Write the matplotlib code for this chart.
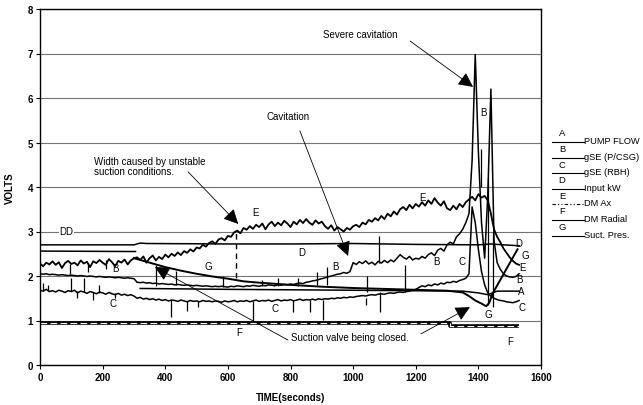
import matplotlib
matplotlib.use("Agg")
import matplotlib.pyplot as plt
import numpy as np
from matplotlib.lines import Line2D

plt.rcParams["font.family"] = ["Liberation Sans", "DejaVu Sans"]

# ---- data (volts vs seconds) ----
# jagged channels, one reading every 10 s from 0 to 1530 s
t10 = np.arange(0, 1531, 10)

e_dm_ax = [
    2.28, 2.22, 2.30, 2.26, 2.33, 2.25, 2.31, 2.18, 2.29, 2.34, 2.27, 2.30, 2.24, 2.35, 2.28, 2.32,
    2.20, 2.33, 2.29, 2.36, 2.30, 2.25, 2.38, 2.31, 2.22, 2.34, 2.30, 2.37, 2.26, 2.35, 2.40,
    2.42, 2.36, 2.44, 2.30, 2.40, 2.46, 2.35, 2.43, 2.38, 2.48, 2.42, 2.50, 2.45, 2.53, 2.47, 2.56,
    2.52, 2.60, 2.55, 2.64, 2.62, 2.70, 2.66, 2.74, 2.78, 2.72, 2.82, 2.85, 2.80, 2.90, 2.88, 2.98,
    3.02, 2.96, 3.08, 3.04, 3.12, 3.06, 3.15, 3.10, 3.18, 3.05, 3.16, 3.22, 3.12, 3.20, 3.14, 3.24,
    3.18, 3.10, 3.22, 3.16, 3.26, 3.19, 3.28, 3.20, 3.15, 3.25, 3.18, 3.22,
    3.12, 3.06, 3.14, 3.02, 3.10, 3.05, 3.00, 3.08, 3.04, 3.12,
    3.15, 3.10, 3.20, 3.16, 3.26, 3.22, 3.30, 3.25, 3.35, 3.28, 3.40, 3.34, 3.45, 3.38, 3.50,
    3.55, 3.48, 3.60, 3.52, 3.62, 3.56, 3.66, 3.58, 3.70, 3.62, 3.75, 3.65, 3.58, 3.68, 3.52,
    3.48, 3.58, 3.50, 3.62, 3.55, 3.66,
    3.72, 3.78, 3.70, 3.84, 3.76, 3.80, 3.70,
    3.40, 3.05, 2.88, 2.76, 2.62, 2.52, 2.42, 2.34, 2.28, 2.25,
]

b_gse_pcsg = [
    2.05, 2.04, 2.05, 2.03, 2.04, 2.03, 2.02, 2.03, 2.02, 2.01, 2.02, 2.01, 2.00, 2.01, 2.00, 1.99,
    2.00, 1.99, 1.98, 1.99, 1.98, 1.97, 1.98, 1.97, 1.96, 1.97, 1.96, 1.95, 1.96, 1.95, 1.94,
    1.86, 1.85, 1.86, 1.84, 1.85, 1.83, 1.84, 1.82, 1.83, 1.82, 1.81, 1.82, 1.80, 1.81, 1.80, 1.79,
    1.80, 1.79, 1.78, 1.79, 1.78, 1.77, 1.78, 1.77, 1.76, 1.77, 1.76, 1.77, 1.76, 1.75,
    1.77, 1.76, 1.78, 1.77, 1.76, 1.78, 1.77, 1.79, 1.78, 1.77, 1.79, 1.78, 1.80, 1.79, 1.78, 1.80,
    1.79, 1.81, 1.80, 1.82, 1.81, 1.83, 1.84, 1.83, 1.86, 1.87, 1.89, 1.90, 1.92, 1.94,
    1.96, 1.98, 2.00, 2.02, 2.04, 2.05, 2.08, 2.06, 2.10, 2.30,
    2.26, 2.32, 2.28, 2.34, 2.27, 2.31, 2.25, 2.33, 2.29, 2.35, 2.30, 2.36, 2.32, 2.40, 2.48, 2.42,
    2.38, 2.44, 2.36, 2.40,
    2.38, 2.44, 2.40, 2.48, 2.52, 2.46, 2.58, 2.62, 2.56, 2.70, 2.76, 2.72, 2.88, 2.95, 3.05, 3.20,
    3.40,
    4.60, 6.98, 4.80, 3.20, 2.40, 3.80, 6.20, 2.80, 2.30, 2.15, 2.05, 2.00, 1.98, 1.97, 1.99, 2.05,
]

c_gse_rbh = [
    1.68, 1.66, 1.70, 1.65, 1.67, 1.64, 1.68, 1.66, 1.63, 1.67, 1.65, 1.68, 1.62, 1.66, 1.64, 1.61,
    1.65, 1.63, 1.60, 1.64, 1.62, 1.59, 1.63, 1.60, 1.58, 1.61, 1.57, 1.59, 1.56, 1.58, 1.55,
    1.50, 1.52, 1.48, 1.50, 1.47, 1.49, 1.46, 1.48, 1.45, 1.47, 1.44, 1.46, 1.45, 1.43, 1.46, 1.44,
    1.42, 1.45, 1.43, 1.44, 1.42, 1.45, 1.43, 1.44, 1.42, 1.44, 1.43, 1.41, 1.44, 1.42,
    1.43, 1.45, 1.42, 1.44, 1.43, 1.45, 1.42, 1.44, 1.46, 1.43, 1.45, 1.44, 1.46, 1.43, 1.45, 1.47,
    1.44, 1.46, 1.45, 1.47, 1.44, 1.46, 1.48, 1.45, 1.47, 1.46, 1.48, 1.46, 1.49, 1.47,
    1.49, 1.48, 1.50, 1.49, 1.51, 1.50, 1.52, 1.51, 1.53, 1.52, 1.54, 1.55, 1.56, 1.55, 1.57, 1.58,
    1.57, 1.59, 1.60, 1.59, 1.61, 1.62, 1.61, 1.63, 1.64, 1.63, 1.65, 1.66, 1.68, 1.70,
    1.74, 1.78, 1.76, 1.80, 1.78, 1.82, 1.80, 1.84, 1.82, 1.86, 1.85, 1.88, 1.86, 1.90, 1.92, 1.95,
    2.05,
    3.55, 3.20, 2.60, 2.10, 1.80, 1.62, 1.55, 1.50, 1.47, 1.45, 1.44, 1.42, 1.41, 1.40, 1.42, 1.45,
]

# smoother channels, read at break points
a_t = [0, 305, 305, 320, 600, 1000, 1350, 1400, 1430, 1445, 1460, 1530]
a_v = [2.56, 2.55, np.nan, 1.72, 1.70, 1.68, 1.66, 1.62, 1.58, 1.62, 1.66, 1.66]

d_t = [0, 300, 320, 340, 600, 800, 1000, 1200, 1400, 1440, 1480, 1530]
d_v = [2.70, 2.70, 2.74, 2.73, 2.72, 2.72, 2.73, 2.71, 2.70, 2.72, 2.70, 2.68]

f_t = [0, 1310, 1310, 1530]
f_v = [0.95, 0.95, 0.88, 0.88]

g_t = [300, 350, 400, 450, 500, 550, 600, 650, 700, 800, 900, 1000, 1100, 1200, 1300,
       1350, 1370, 1390, 1410, 1425, 1435, 1445, 1465, 1485, 1505, 1525]
g_v = [2.40, 2.30, 2.20, 2.12, 2.05, 1.99, 1.94, 1.88, 1.85, 1.80, 1.76, 1.73, 1.71, 1.69, 1.67,
       1.63, 1.55, 1.45, 1.38, 1.32, 1.40, 1.60, 1.85, 2.10, 2.35, 2.60]

# single-sample spikes (time, low, high)
spike_t = [10, 25, 100, 118, 140, 168, 190, 240, 96, 153, 211, 371, 418, 434, 469, 505, 585,
           681, 709, 760, 808, 825, 862, 884, 905, 916, 1041, 1043, 1083, 1086, 1166,
           1409, 1432, 1448]
spike_lo = [1.66, 1.66, 1.66, 1.50, 1.65, 1.45, 1.62, 1.50, 2.05, 2.10, 2.15, 1.78, 1.08, 1.80,
            1.22, 1.30, 1.75, 0.99, 1.78, 1.78, 1.20, 1.78, 1.20, 1.80, 1.02, 1.80, 1.35, 1.65,
            2.30, 1.20, 1.65, 4.00, 1.35, 1.30]
spike_hi = [1.85, 1.80, 1.95, 1.66, 1.95, 1.64, 1.80, 1.62, 2.28, 2.30, 2.35, 2.25, 1.45, 2.12,
            1.44, 1.44, 2.00, 1.44, 1.90, 1.95, 1.46, 1.95, 1.46, 2.10, 1.47, 2.20, 1.50, 2.00,
            2.90, 1.65, 2.25, 4.85, 4.20, 3.00]

marker_t = [626]   # dashed time marker
marker_lo, marker_hi = 1.95, 3.0

W, H = 643, 406
fig = plt.figure(figsize=(W / 100, H / 100), dpi=100)
ax = fig.add_axes([40 / W, 1 - 366 / H, 501 / W, 356 / H])

ax.set_xlim(0, 1600)
ax.set_ylim(0, 8)
ax.set_yticks(range(0, 9))
ax.set_xticks(range(0, 1601, 200))
ax.yaxis.grid(True, color="0.45", lw=0.8)
ax.set_axisbelow(True)
ax.tick_params(direction="out", length=3, width=0.8, labelsize=7, pad=2)
for lab in ax.get_xticklabels() + ax.get_yticklabels():
    lab.set_fontweight("bold")
for s in ax.spines.values():
    s.set_linewidth(1.0)

lw = 1.1
ax.plot(f_t, f_v, color="black", lw=2.6, solid_capstyle="butt")
ax.plot(f_t, f_v, color="white", lw=0.8, dashes=(6, 3))
ax.plot(d_t, d_v, color="black", lw=lw)
ax.plot(a_t, a_v, color="black", lw=lw)
ax.plot(g_t, g_v, color="black", lw=1.4)
ax.plot(t10, c_gse_rbh, color="black", lw=lw)
ax.plot(t10, b_gse_pcsg, color="black", lw=lw)
ax.plot(t10, e_dm_ax, color="black", lw=1.3)
ax.vlines(spike_t, spike_lo, spike_hi, color="black", lw=0.9)
ax.vlines(marker_t, marker_lo, marker_hi, color="black", lw=1.0, linestyles=(0, (4, 3)))

# trace letters
letters = [
    ("DD", 85, 3.0), ("E", 687, 3.44), ("B", 240, 2.18), ("G", 537, 2.23), ("D", 837, 2.54),
    ("C", 233, 1.39), ("C", 750, 1.28), ("F", 636, 0.74), ("B", 942, 2.23), ("B", 1265, 2.34),
    ("C", 1348, 2.34), ("D", 1530, 2.74), ("G", 1549, 2.47), ("E", 1540, 2.2), ("B", 1530, 1.93),
    ("A", 1536, 1.66), ("C", 1540, 1.3), ("G", 1431, 1.15), ("F", 1501, 0.54), ("E", 1220, 3.78),
    ("B", 1415, 5.68),
]
for txt, x, y in letters:
    ax.text(x, y, txt, fontsize=7, ha="center", va="center",
            bbox=dict(facecolor="white", edgecolor="none", pad=0.3) if txt == "DD" else None)

arrow = dict(arrowstyle="-|>,head_length=0.9,head_width=0.45", mutation_scale=10,
             lw=0.6, color="black", shrinkA=0, shrinkB=0)
ax.annotate("", xy=(1383, 6.25), xytext=(1182, 7.28), arrowprops=arrow)
ax.text(904, 7.44, "Severe cavitation", fontsize=7, ha="left", va="center")
ax.annotate("", xy=(984, 2.45), xytext=(830, 5.26), arrowprops=arrow)
ax.text(792, 5.6, "Cavitation", fontsize=7, ha="center", va="center")
ax.annotate("", xy=(633, 3.17), xytext=(473, 4.34), arrowprops=arrow)
ax.text(172, 4.47, "Width caused by unstable\nsuction conditions.", fontsize=7,
        ha="left", va="center", linespacing=1.1)
ax.annotate("", xy=(367, 2.2), xytext=(792, 0.56), arrowprops=arrow)
ax.annotate("", xy=(1373, 1.3), xytext=(1217, 0.7), arrowprops=arrow)
ax.text(802, 0.63, "Suction valve being closed.", fontsize=7, ha="left", va="center")

ax.set_xlabel("TIME(seconds)", fontsize=7, fontweight="bold", labelpad=7)
ax.set_ylabel("VOLTS", fontsize=7, fontweight="bold", labelpad=9)

# hand-made legend on the right
entries = [("A", "PUMP FLOW", "-"), ("B", "gSE (P/CSG)", "-"), ("C", "gSE (RBH)", "-"),
           ("D", "Input kW", "-"), ("E", "DM Ax", "dashdot"), ("F", "DM Radial", "-"),
           ("G", "Suct. Pres.", "-")]
for i, (let, name, ls) in enumerate(entries):
    ly = 134 + 15.6 * i
    line_y = ly + 9
    fig.text(562 / W, 1 - ly / H, let, fontsize=6.8, ha="center", va="center")
    ln = Line2D([552 / W, 584 / W], [1 - line_y / H, 1 - line_y / H], color="black", lw=0.8,
                transform=fig.transFigure)
    if ls == "dashdot":
        ln.set_dashes((3, 2, 1, 2, 1, 2))
    fig.add_artist(ln)
    fig.text(584 / W, 1 - (line_y - 1.5) / H, name, fontsize=6.7, ha="left", va="center")

fig.savefig("out.png", dpi=100)
